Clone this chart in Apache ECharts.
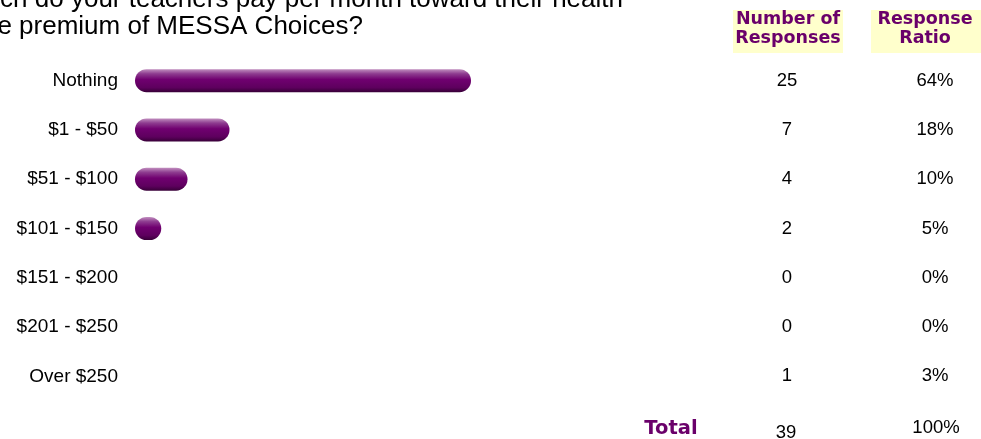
<!DOCTYPE html>
<html>
<head>
<meta charset="utf-8">
<script src="https://cdn.jsdelivr.net/npm/echarts@6/dist/echarts.min.js"></script>
<style>
  html, body { margin: 0; padding: 0; background: #fff; }
  #chart { width: 981px; height: 439px; }
</style>
</head>
<body>
<div id="chart"></div>
<script>
// Survey question: monthly teacher contribution to the MESSA Choices premium
const categories = ['Nothing', '$1 - $50', '$51 - $100', '$101 - $150', '$151 - $200', '$201 - $250', 'Over $250'];
const responseCounts = [25, 7, 4, 2, 0, 0, 1];
const responseRatios = ['64%', '18%', '10%', '5%', '0%', '0%', '3%'];
// bar length per row, in percent of respondents, as drawn
const barPercent = [64, 18, 10, 5, 0, 0, 0];
const totalCount = 39;
const totalRatio = '100%';
const titleLines = ['How much do your teachers pay per month toward their health', 'insurance premium of MESSA Choices?'];
const headerCount = 'Number of\nResponses';
const headerRatio = 'Response\nRatio';

const purple = '#6a006a';
const textFont = '"Liberation Sans", Arial, sans-serif';
const headFont = '"DejaVu Sans", Verdana, sans-serif';

const barGradient = new echarts.graphic.LinearGradient(0, 0, 0, 1, [
  { offset: 0, color: '#c290c0' },
  { offset: 0.2, color: '#8e3c90' },
  { offset: 0.45, color: '#700070' },
  { offset: 0.8, color: '#5e005e' },
  { offset: 1, color: '#380038' }
]);

const chart = echarts.init(document.getElementById('chart'), null, { renderer: 'canvas' });

chart.setOption({
  animation: false,
  backgroundColor: '#ffffff',
  grid: { left: 135, top: 56, width: 525, height: 345, containLabel: false },
  xAxis: {
    type: 'value', min: 0, max: 100,
    show: false
  },
  yAxis: [
    {
      type: 'category', data: categories, inverse: true,
      axisLine: { show: false }, axisTick: { show: false }, splitLine: { show: false },
      axisLabel: { margin: 17, color: '#000', fontFamily: textFont, fontSize: 19, align: 'right', padding: [4, 0, 0, 0] }
    },
    {
      type: 'category', data: responseCounts.map(String), inverse: true, position: 'right',
      axisLine: { show: false }, axisTick: { show: false }, splitLine: { show: false },
      axisLabel: { margin: 127, color: '#000', fontFamily: textFont, fontSize: 18.5, align: 'center', padding: [4, 0, 0, 0] }
    },
    {
      type: 'category', data: responseRatios, inverse: true, position: 'right',
      axisLine: { show: false }, axisTick: { show: false }, splitLine: { show: false },
      axisLabel: { margin: 275, color: '#000', fontFamily: textFont, fontSize: 18.5, align: 'center', padding: [4, 0, 0, 0] }
    }
  ],
  series: [{
    type: 'bar',
    data: barPercent,
    yAxisIndex: 0,
    barWidth: 23,
    itemStyle: { color: barGradient, borderRadius: 11.5 },
    silent: true
  }],
  graphic: [
    {
      type: 'text', x: 623, y: 0,
      style: { text: titleLines[0], fill: '#000', font: '26px ' + textFont, textAlign: 'right', textVerticalAlign: 'middle' }
    },
    {
      type: 'text', x: 363, y: 27,
      style: { text: titleLines[1], fill: '#000', font: '26px ' + textFont, textAlign: 'right', textVerticalAlign: 'middle' }
    },
    {
      type: 'rect', shape: { x: 733, y: 10, width: 110, height: 43 },
      style: { fill: '#ffffcc' }
    },
    {
      type: 'rect', shape: { x: 871, y: 10, width: 110, height: 43 },
      style: { fill: '#ffffcc' }
    },
    {
      type: 'text', x: 788, y: 29,
      style: { text: headerCount, fill: purple, font: 'bold 17.5px ' + headFont, lineHeight: 19, textAlign: 'center', textVerticalAlign: 'middle' }
    },
    {
      type: 'text', x: 925, y: 29,
      style: { text: headerRatio, fill: purple, font: 'bold 17.5px ' + headFont, lineHeight: 19, textAlign: 'center', textVerticalAlign: 'middle' }
    },
    {
      type: 'text', x: 671, y: 429,
      style: { text: 'Total', fill: purple, font: 'bold 19.5px ' + headFont, textAlign: 'center', textVerticalAlign: 'middle' }
    },
    {
      type: 'text', x: 786, y: 433,
      style: { text: String(totalCount), fill: '#000', font: '18.5px ' + textFont, textAlign: 'center', textVerticalAlign: 'middle' }
    },
    {
      type: 'text', x: 936, y: 428,
      style: { text: totalRatio, fill: '#000', font: '18.5px ' + textFont, textAlign: 'center', textVerticalAlign: 'middle' }
    }
  ]
});
</script>
</body>
</html>
